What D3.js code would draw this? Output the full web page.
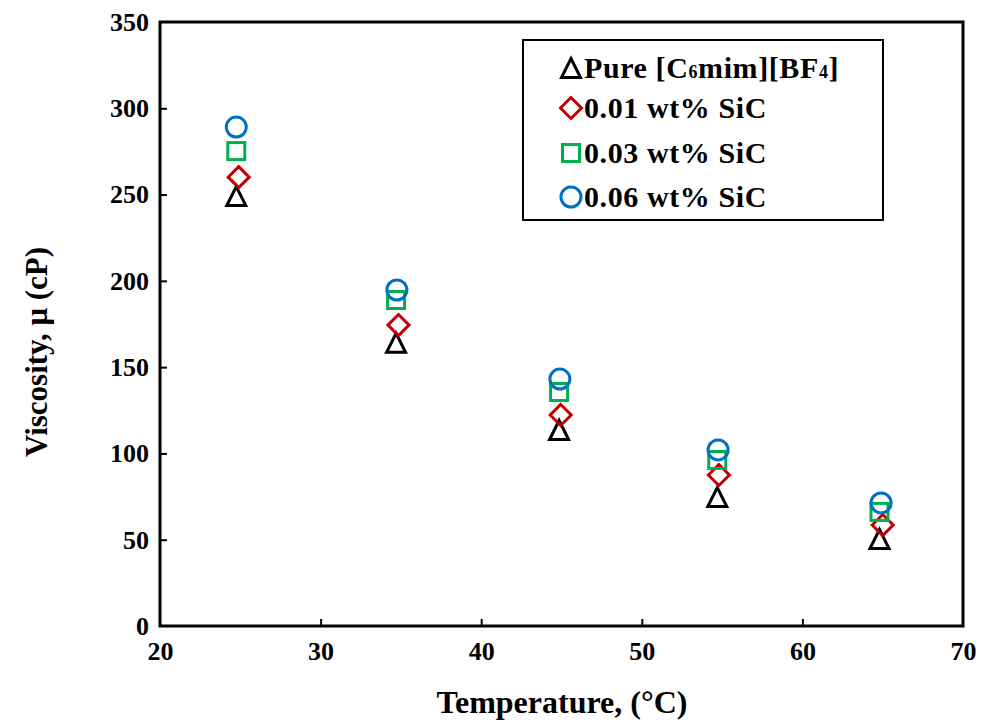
<!DOCTYPE html>
<html><head><meta charset="utf-8">
<script src="https://cdn.jsdelivr.net/npm/d3@7/dist/d3.min.js"></script>
<style>body{margin:0;background:#fff}svg{display:block}text{font-family:"Liberation Serif","Times New Roman",serif;font-weight:bold}</style>
</head><body><svg id="c" width="986" height="720"></svg>
<script>
// Data
const xTicks = [20, 30, 40, 50, 60, 70];
const yTicks = [0, 50, 100, 150, 200, 250, 300, 350];
const tempPure = [24.75, 34.7, 44.85, 54.7, 64.8];
const valPure = [249.1, 164.1, 113.6, 74.7, 50.4];
const temp001 = [24.9, 34.85, 44.95, 54.8, 65.0];
const val001 = [260.1, 174.4, 122.3, 87.5, 58.5];
const temp003 = [24.75, 34.7, 44.85, 54.7, 64.8];
const val003 = [275.2, 188.9, 135.6, 96.2, 66.1];
const temp006 = [24.75, 34.75, 44.9, 54.75, 64.9];
const val006 = [289.1, 194.7, 143.1, 102.0, 71.3];
const seriesNames = ["Pure", "0.01 wt% SiC", "0.03 wt% SiC", "0.06 wt% SiC"];

const series = [
  {name: seriesNames[0], xs: tempPure, ys: valPure, shape: "triangle", color: "#000000"},
  {name: seriesNames[1], xs: temp001, ys: val001, shape: "diamond", color: "#c00000"},
  {name: seriesNames[2], xs: temp003, ys: val003, shape: "square", color: "#00b050"},
  {name: seriesNames[3], xs: temp006, ys: val006, shape: "circle", color: "#0070c0"}
];

const svg = d3.select("#c");
const L = 160, R = 963, T = 22, B = 626;
const x = d3.scaleLinear().domain([20, 70]).range([L, R]);
const y = d3.scaleLinear().domain([0, 350]).range([B, T]);

// axes with inward ticks
const gx = svg.append("g").attr("transform", `translate(0,${B})`)
  .call(d3.axisBottom(x).tickValues(xTicks).tickSizeInner(-7).tickSizeOuter(0).tickPadding(16));
const gy = svg.append("g").attr("transform", `translate(${L},0)`)
  .call(d3.axisLeft(y).tickValues(yTicks).tickSizeInner(-7).tickSizeOuter(0).tickPadding(11));
[gx, gy].forEach(g => {
  g.select(".domain").remove();
  g.selectAll(".tick line").attr("stroke", "#000").attr("stroke-width", 2);
  g.selectAll(".tick text").attr("font-size", 26).attr("fill", "#000")
    .style("font-family", '"Liberation Serif",serif').style("font-weight", "bold");
});
gx.selectAll(".tick line").filter(d => d === 20 || d === 70).remove();
gy.selectAll(".tick line").filter(d => d === 0 || d === 350).remove();
gx.selectAll(".tick text").attr("dy", "0.71em");

// plot box
svg.append("rect").attr("x", L).attr("y", T).attr("width", R - L).attr("height", B - T)
  .attr("fill", "none").attr("stroke", "#000").attr("stroke-width", 3);

// axis titles
svg.append("text").attr("x", 562).attr("y", 713).attr("text-anchor", "middle")
  .attr("font-size", 32).text("Temperature, (°C)");
svg.append("text").attr("transform", `translate(47,352) rotate(-90)`)
  .attr("text-anchor", "middle").attr("font-size", 31).text("Viscosity, μ (cP)");

// markers
function marker(g, shape, color, cx, cy) {
  const sw = 3;
  if (shape === "circle") {
    g.append("circle").attr("cx", cx).attr("cy", cy).attr("r", 10)
      .attr("fill", "none").attr("stroke", color).attr("stroke-width", sw);
  } else if (shape === "square") {
    g.append("rect").attr("x", cx - 8.5).attr("y", cy - 8.5).attr("width", 17).attr("height", 17)
      .attr("fill", "none").attr("stroke", color).attr("stroke-width", sw);
  } else if (shape === "diamond") {
    const r = 10.5;
    g.append("path").attr("d", `M${cx},${cy - r}L${cx + r},${cy}L${cx},${cy + r}L${cx - r},${cy}Z`)
      .attr("fill", "none").attr("stroke", color).attr("stroke-width", sw);
  } else {
    const h = 19, w = 19;
    g.append("path").attr("d", `M${cx},${cy - h / 2}L${cx + w / 2},${cy + h / 2}L${cx - w / 2},${cy + h / 2}Z`)
      .attr("fill", "none").attr("stroke", color).attr("stroke-width", sw).attr("stroke-linejoin", "miter");
  }
}
const gm = svg.append("g");
series.forEach(s => {
  s.xs.forEach((t, i) => marker(gm, s.shape, s.color, x(t), y(s.ys[i])));
});

// legend
const lg = svg.append("g");
lg.append("rect").attr("x", 523).attr("y", 40).attr("width", 360).attr("height", 180)
  .attr("fill", "#fff").attr("stroke", "#000").attr("stroke-width", 2);
const rowsY = [68, 108, 153, 197];
series.forEach((s, i) => {
  marker(lg, s.shape, s.color, 571, rowsY[i]);
  const t = lg.append("text").attr("x", 584).attr("y", rowsY[i] + 10).attr("font-size", 30)
    .attr("letter-spacing", 0.6).attr("fill", "#000");
  if (i === 0) {
    t.append("tspan").text("Pure [C");
    t.append("tspan").attr("font-size", 18).text("6");
    t.append("tspan").text("mim][BF");
    t.append("tspan").attr("font-size", 18).text("4");
    t.append("tspan").text("]");
  } else {
    t.text(s.name);
  }
});
</script></body></html>
